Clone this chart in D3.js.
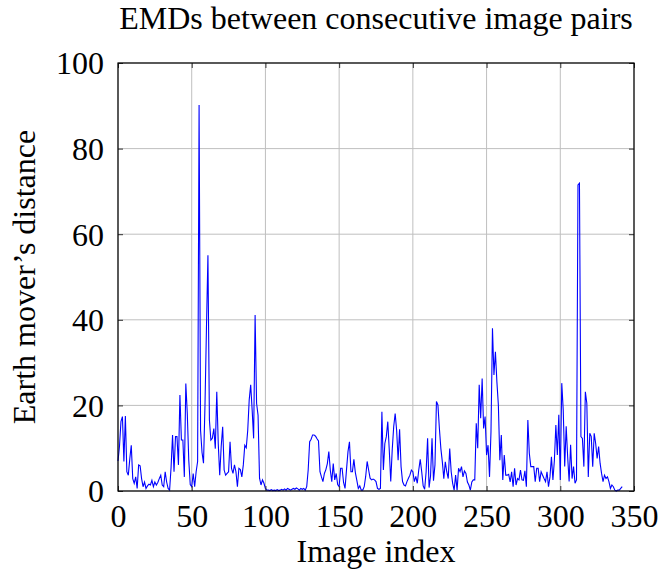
<!DOCTYPE html>
<html>
<head>
<meta charset="utf-8">
<script src="https://cdn.jsdelivr.net/npm/d3@7"></script>
<style>
  body { margin: 0; background: #fff; }
</style>
</head>
<body>
<svg width="662" height="575"></svg>
<script>
// EMD between image i and i+1
var emd = [
  7, 10.4, 16.2, 17.4, 6.9, 17.5, 4.5, 3.7, 7.5, 10.7,
  2.9, 1.8, 3.3, 0.6, 6.1, 5.9, 2.9, 1, 2.1, 0.6,
  1.2, 1.6, 1.4, 2.5, 1, 2.1, 1.4, 2, 2.9, 3.7,
  1.4, 1, 4.5, 2.1, 0.6, 0.2, 5.5, 13.1, 4.5, 12.7,
  12.7, 6.1, 22.4, 11.9, 11.9, 3.3, 25.1, 18.1, 7.2, 1.5,
  1, 4.1, 1, 4.5, 6.9, 90.2, 14.2, 9, 6.5, 20,
  38, 55.1, 16.6, 11.9, 12.3, 14.6, 9.9, 23.2, 11.1, 3.7,
  10.4, 15, 4.9, 3.7, 4.1, 4.5, 11.5, 5.3, 4.1, 6.1,
  4.5, 1, 5.3, 5, 3.3, 6.1, 10.7, 10.1, 14.2, 21.3,
  24.8, 18.9, 12.3, 41.1, 20.5, 17.7, 3, 1.4, 2.6, 1.8,
  0.6, 0.2, 0.2, 0.1, 0.3, 0.1, 0.2, 0.1, 0.3, 0.1,
  0.2, 0.4, 0.2, 0.5, 0.2, 0.6, 0.4, 0.2, 0.4, 0.6,
  0.4, 0.7, 0.5, 0.2, 0.6, 0.4, 0.6, 0.2, 1, 4.9,
  11.5, 12.1, 13.1, 13.1, 12.8, 12.2, 11.7, 4.5, 3.3, 2.2,
  4.1, 5, 6.4, 9.2, 4.9, 2.2, 6.4, 2.6, 4.1, 1.5,
  1, 5.3, 5.3, 2, 0.6, 5, 9.2, 11.5, 4.5, 4.5,
  7.4, 4.3, 2.5, 0.6, 1.2, 0.2, 0.2, 1, 3.4, 6.9,
  4.9, 3, 2.6, 2.8, 2.6, 2.2, 0.6, 0.4, 0.6, 18.5,
  4.9, 11.1, 12.7, 16.2, 9.6, 2.2, 9.6, 15, 18.1, 14.2,
  7.2, 14.4, 5.7, 2.2, 1.4, 1.2, 2.2, 3, 3.7, 4.9,
  4.5, 2.2, 3.4, 1.8, 4.9, 7.4, 4.5, 1.2, 0.4, 4.5,
  12.3, 0.8, 3.5, 12.3, 2.4, 6.1, 20.9, 20.1, 14.6, 9.9,
  6.8, 2.9, 6.8, 4.5, 2.9, 9.9, 4.5, 1.8, 0.2, 3.7,
  0.2, 5.3, 4.5, 5.7, 3.3, 4.7, 4.1, 2.1, 1.4, 0.2,
  2.1, 2.6, 2.6, 15.8, 10, 24.8, 17, 26.3, 14.6, 17.4,
  8.4, 10.7, 3.3, 13.9, 38, 27.1, 32.5, 25.5, 20.1, 7.2,
  13.1, 2.6, 8.4, 3.7, 3.7, 3.9, 2.1, 4.5, 1, 5.3,
  1.4, 2.9, 2.6, 4.9, 2.6, 2.5, 4.7, 1, 16.6, 8.8,
  5.7, 5.7, 5.7, 2.2, 5.3, 5.3, 2.2, 4.5, 3.7, 2.9,
  2.2, 4.5, 1, 3.3, 8, 2.6, 7.2, 15.4, 8.4, 17.8,
  2.6, 25.2, 18.9, 5.7, 15.1, 8, 2.2, 10.8, 2.9, 5.7,
  1.8, 2.6, 71.5, 71.9, 12.7, 12.3, 5.7, 23.2, 20.5, 3.3,
  13.5, 12.7, 5.7, 13.5, 11.1, 7.6, 10.4, 6.5, 4.1, 2.2,
  3.7, 2.9, 3.3, 2.2, 0.6, 1.4, 1, 0.2, 0, 0.2,
  0.2, 0.6, 1
];

var xTicks = [0, 50, 100, 150, 200, 250, 300, 350];
var yTicks = [0, 20, 40, 60, 80, 100];

var titleText = "EMDs between consecutive image pairs",
    xLabelText = "Image index",
    yLabelText = "Earth mover\u2019s distance";

var serif = "'Liberation Serif', 'Times New Roman', Times, serif",
    fontSize = "32px";

var svg = d3.select("svg"),
    margin = {top: 63, right: 28, bottom: 84, left: 118},
    width = 662 - margin.left - margin.right,
    height = 575 - margin.top - margin.bottom;

var g = svg.append("g")
    .attr("transform", "translate(" + margin.left + "," + margin.top + ")");

var x = d3.scaleLinear().domain([0, 350]).range([0, width]),
    y = d3.scaleLinear().domain([0, 100]).range([height, 0]);

// grid
g.append("g").selectAll("line").data(xTicks).enter().append("line")
    .attr("x1", function(d) { return x(d); }).attr("x2", function(d) { return x(d); })
    .attr("y1", 0).attr("y2", height)
    .attr("stroke", "#bfbfbf").attr("stroke-width", 1);
g.append("g").selectAll("line").data(yTicks).enter().append("line")
    .attr("x1", 0).attr("x2", width)
    .attr("y1", function(d) { return y(d); }).attr("y2", function(d) { return y(d); })
    .attr("stroke", "#bfbfbf").attr("stroke-width", 1);

// data line
var line = d3.line()
    .x(function(d, i) { return x(i); })
    .y(function(d) { return y(d); });

g.append("path")
    .datum(emd)
    .attr("fill", "none")
    .attr("stroke", "#0000ff")
    .attr("stroke-width", 1.1)
    .attr("d", line);

// axes: inward ticks on all four sides, pgfplots style
var tickLen = 5;
var xAxis = d3.axisBottom(x).tickValues(xTicks).tickSizeInner(-tickLen).tickSizeOuter(0).tickPadding(13);
var yAxis = d3.axisLeft(y).tickValues(yTicks).tickSizeInner(-tickLen).tickSizeOuter(0).tickPadding(14);

var gx = g.append("g").attr("transform", "translate(0," + height + ")").call(xAxis);
var gy = g.append("g").call(yAxis);
var gxTop = g.append("g").call(d3.axisTop(x).tickValues(xTicks).tickSizeInner(-tickLen).tickSizeOuter(0).tickFormat(""));
var gyRight = g.append("g").attr("transform", "translate(" + width + ",0)")
    .call(d3.axisRight(y).tickValues(yTicks).tickSizeInner(-tickLen).tickSizeOuter(0).tickFormat(""));

[gx, gy, gxTop, gyRight].forEach(function(a) {
    a.select(".domain").remove();
    a.selectAll(".tick line").attr("stroke", "#333").attr("stroke-width", 1);
    a.selectAll("text")
        .style("font-family", serif)
        .style("font-size", fontSize)
        .attr("fill", "#000");
});
gx.selectAll("text").attr("dy", "0.71em");
gy.selectAll("text").attr("dy", "0.34em");

// frame
g.append("rect")
    .attr("width", width).attr("height", height)
    .attr("fill", "none").attr("stroke", "#000").attr("stroke-width", 1.2);

// labels
svg.append("text")
    .attr("x", margin.left + width / 2).attr("y", 29)
    .attr("text-anchor", "middle")
    .style("font-family", serif).style("font-size", fontSize)
    .text(titleText);

svg.append("text")
    .attr("x", margin.left + width / 2).attr("y", 562)
    .attr("text-anchor", "middle")
    .style("font-family", serif).style("font-size", fontSize)
    .text(xLabelText);

svg.append("text")
    .attr("transform", "translate(35," + (margin.top + height / 2) + ") rotate(-90)")
    .attr("text-anchor", "middle")
    .style("font-family", serif).style("font-size", fontSize)
    .text(yLabelText);
</script>
</body>
</html>
